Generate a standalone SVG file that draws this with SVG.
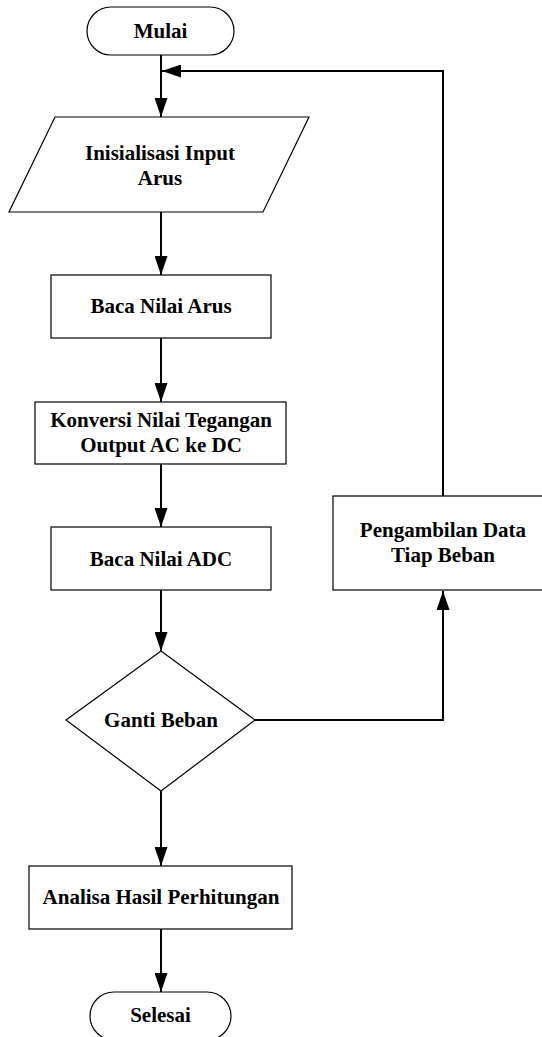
<svg xmlns="http://www.w3.org/2000/svg" width="542" height="1037" viewBox="0 0 542 1037">
<style>
.n{fill:#fff;stroke:#000;stroke-width:1.2}
.t{font-family:"Liberation Serif","Times New Roman",serif;font-weight:bold;font-size:21px;fill:#000;text-anchor:middle}
.c{fill:none;stroke:#000;stroke-width:2}
</style>
<defs>
<marker id="ah" markerUnits="userSpaceOnUse" markerWidth="20" markerHeight="13" refX="19" refY="6.5" orient="auto">
<path d="M0,0 L19,6.5 L0,13 z" fill="#000"/>
</marker>
</defs>
<rect width="542" height="1037" fill="#fff"/>
<g id="connectors">
<line class="c" x1="161" y1="55" x2="161" y2="117" marker-end="url(#ah)"/>
<polyline class="c" points="443,496 443,71 162,71" marker-end="url(#ah)"/>
<line class="c" x1="161" y1="212" x2="161" y2="275" marker-end="url(#ah)"/>
<line class="c" x1="161" y1="338" x2="161" y2="402" marker-end="url(#ah)"/>
<line class="c" x1="161" y1="464" x2="161" y2="527" marker-end="url(#ah)"/>
<line class="c" x1="161" y1="590" x2="161" y2="651" marker-end="url(#ah)"/>
<polyline class="c" points="255,720 443,720 443,591" marker-end="url(#ah)"/>
<line class="c" x1="161" y1="791" x2="161" y2="866" marker-end="url(#ah)"/>
<line class="c" x1="161" y1="929" x2="161" y2="992" marker-end="url(#ah)"/>
</g>
<g id="mulai">
<rect class="n" x="87" y="7" width="147" height="48" rx="24" ry="24"/>
<text class="t" x="160.5" y="38">Mulai</text>
</g>
<g id="inisialisasi">
<polygon class="n" points="55,117 309,117 263,212 9,212"/>
<text class="t" x="160" y="160">Inisialisasi Input</text>
<text class="t" x="160" y="185">Arus</text>
</g>
<g id="baca-arus">
<rect class="n" x="51" y="275" width="220" height="63"/>
<text class="t" x="161" y="313">Baca Nilai Arus</text>
</g>
<g id="konversi">
<rect class="n" x="35" y="402" width="251" height="62"/>
<text class="t" x="161" y="427">Konversi Nilai Tegangan</text>
<text class="t" x="161" y="452">Output AC ke DC</text>
</g>
<g id="baca-adc">
<rect class="n" x="51" y="527" width="220" height="63"/>
<text class="t" x="161" y="566">Baca Nilai ADC</text>
</g>
<g id="ganti-beban">
<polygon class="n" points="161,651 255,720 161,791 66,720"/>
<text class="t" x="161" y="727">Ganti Beban</text>
</g>
<g id="pengambilan">
<rect class="n" x="333" y="496" width="220" height="94"/>
<text class="t" x="443" y="537">Pengambilan Data</text>
<text class="t" x="443" y="562">Tiap Beban</text>
</g>
<g id="analisa">
<rect class="n" x="29" y="866" width="263" height="63"/>
<text class="t" x="161" y="904">Analisa Hasil Perhitungan</text>
</g>
<g id="selesai">
<rect class="n" x="90" y="992" width="141" height="48" rx="24" ry="24"/>
<text class="t" x="160.5" y="1022">Selesai</text>
</g>
</svg>
